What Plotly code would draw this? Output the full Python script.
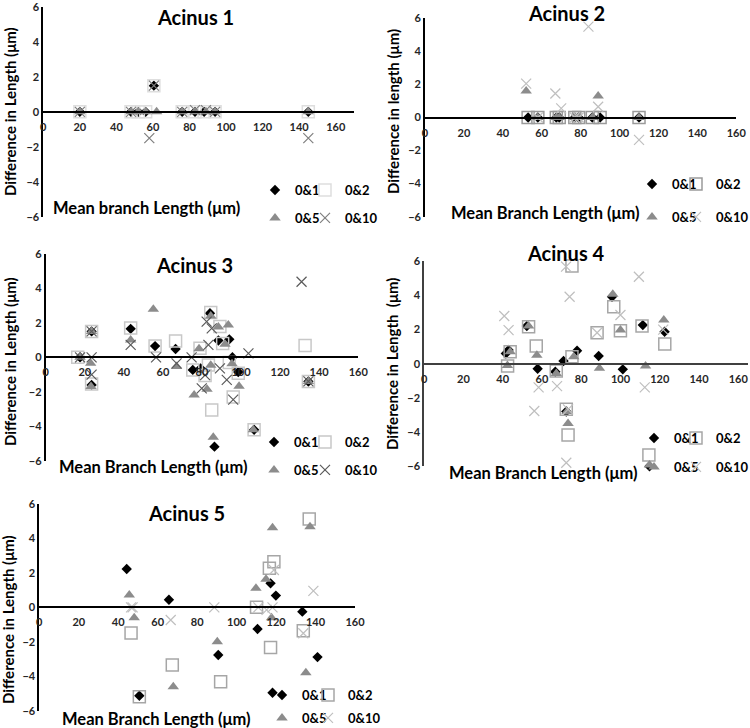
import plotly.graph_objects as go

# ---------------- data ----------------
SERIES = ["0&1", "0&2", "0&5", "0&10"]
PANEL_TITLES = ["Acinus 1", "Acinus 2", "Acinus 3", "Acinus 4", "Acinus 5"]
Y_TITLES = ["Difference in Length (μm)", "Difference in length (μm)",
            "Difference in Length (μm)", "Difference in Length  (μm)",
            "Difference in Length (μm)"]
X_TITLES = ["Mean branch Length (μm)", "Mean Branch Length (μm)",
            "Mean Branch Length (μm)", "Mean Branch Length (μm)",
            "Mean Branch Length (μm)"]
X_TICKS = [0, 20, 40, 60, 80, 100, 120, 140, 160]
Y_TICKS = [-6, -4, -2, 0, 2, 4, 6]

# Acinus 1
a1_x01 = [20, 48, 52, 56, 60.5, 76, 83, 88, 94, 145]
a1_y01 = [0, 0, 0, 0, 1.5, 0, 0, 0, 0, 0]
a1_x02 = [20, 48, 52, 56, 60.5, 76, 83, 88, 94, 145]
a1_y02 = [0, 0, 0, 0, 1.5, 0, 0, 0, 0, 0]
a1_x05 = [20, 48, 52, 56, 62, 76, 83, 89, 94, 145]
a1_y05 = [0, 0, 0, 0, 0, 0, 0, 0, 0, 0]
a1_x10 = [20, 48, 58, 60.5, 76, 83, 89, 94, 145]
a1_y10 = [0, 0, -1.5, 1.5, 0, 0.1, 0.1, 0, -1.5]

# Acinus 2
a2_x01 = [53, 58, 67.5, 69, 77, 79, 86, 90, 110]
a2_y01 = [0, 0, 0, 0, 0, 0, 0, 0, 0]
a2_x02 = [53, 58, 67.5, 69, 77, 79, 86, 90, 110]
a2_y02 = [0, 0, 0, 0, 0, 0, 0, 0, 0]
a2_x05 = [52, 58, 67.5, 69, 77, 79, 86, 89, 110]
a2_y05 = [1.6, 0, 0, 0, 0, 0, 0, 1.3, 0]
a2_x10 = [52, 58, 67, 70, 77, 79, 84, 89, 110]
a2_y10 = [2.05, 0, 1.45, 0.55, 0, 0, 5.5, 0.65, -1.35]

# Acinus 3
a3_x01 = [17.6, 23.5, 23.5, 43.5, 56, 66.5, 75.3, 79.3, 84.1, 86.4, 88.4, 94, 95.6, 98.6, 106.7, 134.5]
a3_y01 = [0, 1.5, -1.6, 1.65, 0.65, 0.48, -0.73, -0.64, 2.55, -5.18, 0.97, 1.04, 0, -0.85, -4.2, -1.4]
a3_x02 = [16.4, 23.5, 23.5, 43.5, 56, 66.5, 75.3, 79, 81.6, 83.3, 84.5, 85, 89.2, 90.6, 94, 96, 98.6, 106.7, 132.8, 134.5]
a3_y02 = [0, 1.5, -1.55, 1.7, 0.65, 0.95, -0.73, 0.52, -1.05, -0.44, 2.6, -3.05, 1.78, 0.8, -0.3, -2.3, -0.93, -4.2, 0.68, -1.4]
a3_x05 = [17.6, 23, 23.5, 23.2, 43.5, 55.1, 67, 76, 78.5, 82.6, 84.5, 84.5, 85.8, 88.4, 91.8, 93.5, 95.4, 99, 106.3, 134.5]
a3_y05 = [0, -0.35, 1.5, -1.7, 1.0, 2.78, -0.54, -2.18, 0.5, -1.85, -0.46, 2.4, -4.64, 1.76, 0.75, 1.87, -0.37, -1.68, -4.2, -1.41]
a3_x10 = [17.6, 23.5, 23.5, 23.5, 43.5, 56.5, 67, 74.7, 79.9, 81.6, 82.4, 83.3, 85, 89.2, 92.7, 96, 103.8, 131, 134.5]
a3_y10 = [0, 0, -1.0, 1.5, 0.72, 0, -0.35, 0, -1.8, -1.03, 2.07, 0.72, 1.68, -0.64, -1.31, -2.45, 0.23, 4.38, -1.4]

# Acinus 4
a4_x01 = [41.6, 43, 52.3, 57.8, 66.8, 71, 72.4, 77.9, 88.9, 95.7, 101.2, 111.4, 114.8, 122.5]
a4_y01 = [0.6, 0.8, 2.2, -0.3, -0.47, 0.16, -2.8, 0.76, 0.45, 3.92, -0.33, 2.26, -6.0, 1.87]
a4_x02 = [42.5, 43.8, 53.2, 57.1, 67.3, 72.4, 73.3, 75.3, 75.3, 88.1, 96.6, 100, 111, 114.5, 122.6]
a4_y02 = [-0.14, 0.7, 2.17, 1.03, -0.43, -2.67, -4.18, 5.72, 0.41, 1.81, 3.34, 1.93, 2.2, -5.35, 1.15]
a4_x05 = [42.4, 43.8, 53.2, 57.4, 67.3, 72.8, 73.3, 76.2, 89.3, 96.1, 100, 112.8, 114.8, 122.1]
a4_y05 = [-0.1, 0.7, 2.2, 0.5, -0.57, -2.8, -3.5, 0.41, -0.27, 4.06, 1.97, -0.14, -5.93, 2.56]
a4_x10 = [40.8, 43, 56.1, 58.3, 67.7, 72.3, 73.3, 74.1, 72.4, 88.1, 100, 109.4, 112.4, 121.8]
a4_y10 = [2.79, 1.97, -2.77, -1.39, -1.31, 5.68, -2.67, 3.92, -5.8, 1.81, 2.85, 5.09, -1.39, 1.99]

# Acinus 5
a5_x01 = [44.3, 50.7, 65.7, 90.7, 110.6, 117.2, 118.2, 119.9, 133.3, 141]
a5_y01 = [2.22, -5.12, 0.44, -2.76, -1.25, 1.39, -4.94, 0.68, -0.25, -2.88]
a5_x02 = [46.5, 50.7, 67.4, 91.9, 110.1, 116.6, 117.2, 118.9, 133.8, 136.8]
a5_y02 = [-1.49, -5.17, -3.34, -4.3, 0, 2.26, -2.32, 2.64, -1.35, 5.12]
a5_x05 = [45.6, 48.1, 67.9, 90.2, 109.8, 114.9, 117.7, 118.2, 135.1, 137.2]
a5_y05 = [0.71, -0.6, -4.6, -1.99, 1.1, 1.62, -0.6, 4.61, -3.78, 4.67]
a5_x10 = [46.5, 47.3, 66.6, 88.7, 111, 115.2, 118.2, 118.9, 133.8, 138.9]
a5_y10 = [0, 0, -0.73, 0, 0, -0.15, 0, 2.16, -1.5, 0.95]

DATA = [
    [(a1_x01, a1_y01), (a1_x02, a1_y02), (a1_x05, a1_y05), (a1_x10, a1_y10)],
    [(a2_x01, a2_y01), (a2_x02, a2_y02), (a2_x05, a2_y05), (a2_x10, a2_y10)],
    [(a3_x01, a3_y01), (a3_x02, a3_y02), (a3_x05, a3_y05), (a3_x10, a3_y10)],
    [(a4_x01, a4_y01), (a4_x02, a4_y02), (a4_x05, a4_y05), (a4_x10, a4_y10)],
    [(a5_x01, a5_y01), (a5_x02, a5_y02), (a5_x05, a5_y05), (a5_x10, a5_y10)],
]

# ---------------- layout / style ----------------
W, H = 750, 728
FONT = "Lato, 'Open Sans', 'DejaVu Sans', sans-serif"

def px(x):
    return x / W

def py(y):
    return 1 - y / H

# leg = (marker x col1, marker x col2, row1 y, row2 y)
PANELS = [
    dict(x0=43.3, x1=354.0, yt=7.0, yb=216.7, xmax=170,
         title=(195, 17), ytitle=(10, 112), xtitle=(146, 208),
         leg=(277, 327, 190, 218), sq="#dedede", xc="#7f7f7f", line="#000000"),
    dict(x0=425.0, x1=736.3, yt=18.3, yb=216.7, xmax=160,
         title=(566, 13), ytitle=(393, 112), xtitle=(545, 213),
         leg=(654, 698, 184, 217), sq="#9a9a9a", xc="#bfbfbf", line="#000000"),
    dict(x0=45.7, x1=358.2, yt=253.8, yb=460.8, xmax=160,
         title=(194, 265), ytitle=(10, 362), xtitle=(153, 467),
         leg=(276, 327, 442, 470), sq="#c8c8c8", xc="#5a5a5a", line="#000000"),
    dict(x0=424.2, x1=748.0, yt=261.2, yb=466.2, xmax=165,
         title=(566, 253), ytitle=(392, 364), xtitle=(543, 473),
         leg=(656, 698, 438, 467), sq="#a6a6a6", xc="#bfbfbf", line="#404040"),
    dict(x0=39.3, x1=355.0, yt=503.7, yb=711.0, xmax=160,
         title=(186, 513), ytitle=(8, 620), xtitle=(156, 719),
         leg=(284, 330, 695, 718), sq="#a6a6a6", xc="#bfbfbf", line="#000000"),
]

fig = go.Figure()
layout = dict(
    width=W, height=H, margin=dict(l=0, r=0, t=0, b=0, autoexpand=False),
    paper_bgcolor="white", plot_bgcolor="rgba(0,0,0,0)",
    font=dict(family=FONT, color="#000000"),
    annotations=[],
)

for i, p in enumerate(PANELS):
    n = i + 1
    xa = "x" if n == 1 else f"x{n}"
    ya = "y" if n == 1 else f"y{n}"
    styles = [
        dict(symbol="diamond", size=8, color="#000000"),
        dict(symbol="square-open", size=12, color=p["sq"], line=dict(width=1.5, color=p["sq"])),
        dict(symbol="triangle-up", size=10, color="#8c8c8c"),
        dict(symbol="x-thin-open", size=10, color=p["xc"], line=dict(width=1.2, color=p["xc"])),
    ]
    mx1, mx2, ly1, ly2 = p["leg"]
    leg_pos = [(mx1, ly1), (mx2, ly1), (mx1, ly2), (mx2, ly2)]
    for k, (xs, ys) in enumerate(DATA[i]):
        idx = 4 * i + k + 1
        lkey = "legend" if idx == 1 else f"legend{idx}"
        fig.add_trace(go.Scatter(
            x=xs, y=ys, mode="markers", name=SERIES[k], marker=styles[k],
            xaxis=xa, yaxis=ya, legend=lkey, showlegend=True, cliponaxis=False,
        ))
        lx, ly = leg_pos[k]
        layout[lkey] = dict(
            x=px(lx - 22), y=py(ly), xanchor="left", yanchor="middle",
            orientation="h", bgcolor="rgba(0,0,0,0)", borderwidth=0,
            itemclick=False, itemdoubleclick=False,
            font=dict(size=13, weight="bold", color="#000000"),
        )

    xd = [px(p["x0"]), px(p["x1"])]
    yd = [py(p["yb"]), py(p["yt"])]
    zero_pos = py((p["yt"] + p["yb"]) / 2)
    xkey = "xaxis" if n == 1 else f"xaxis{n}"
    ykey = "yaxis" if n == 1 else f"yaxis{n}"
    layout[xkey] = dict(
        domain=xd, range=[0, p["xmax"]], anchor="free", position=zero_pos,
        tickvals=X_TICKS, showgrid=False, zeroline=False, showline=True,
        linecolor=p["line"], linewidth=1.8, ticks="", ticklabelstandoff=5,
        ticklabeloverflow="allow",
        tickfont=dict(size=11, weight="bold", color="#262626"),
    )
    layout[ykey] = dict(
        domain=yd, range=[-6, 6], anchor=xa,
        tickvals=Y_TICKS, showgrid=False, zeroline=False, showline=True,
        linecolor=p["line"], linewidth=1.8, ticks="",
        ticklabeloverflow="allow",
        tickfont=dict(size=11, weight="bold", color="#262626"),
    )
    tx, ty = p["title"]
    layout["annotations"].append(dict(
        text=PANEL_TITLES[i], x=px(tx), y=py(ty), xref="paper", yref="paper",
        xanchor="center", yanchor="middle", showarrow=False,
        font=dict(size=20, weight="bold", color="#000000")))
    yx, yy = p["ytitle"]
    layout["annotations"].append(dict(
        text=Y_TITLES[i], x=px(yx), y=py(yy), xref="paper", yref="paper",
        xanchor="center", yanchor="middle", showarrow=False, textangle=-90,
        font=dict(size=15, weight="bold", color="#000000")))
    xx, xy = p["xtitle"]
    layout["annotations"].append(dict(
        text=X_TITLES[i], x=px(xx), y=py(xy), xref="paper", yref="paper",
        xanchor="center", yanchor="middle", showarrow=False,
        font=dict(size=16.5, weight="bold", color="#000000")))

fig.update_layout(**layout)
# remove the browser's default 8px body margin so the 750x728 figure fills the window exactly
fig.write_html("out.html", config={"displayModeBar": False},
               post_script="document.body.style.margin='0px';")
